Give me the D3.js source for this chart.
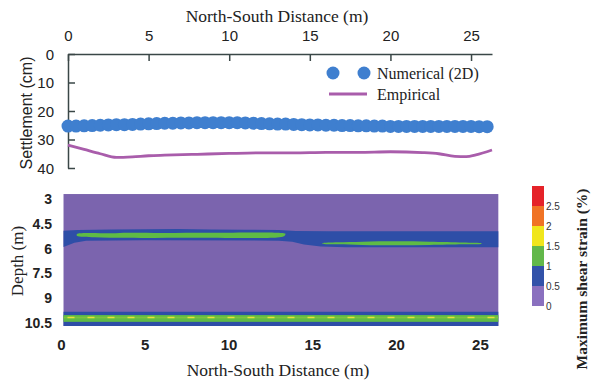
<!DOCTYPE html>
<html><head><meta charset="utf-8">
<script src="https://cdn.jsdelivr.net/npm/d3@7"></script>
<style>body{margin:0;background:#fff}svg{display:block}
.serif{font-family:"Times New Roman",Times,"Liberation Serif",Tinos,"Noto Serif","DejaVu Serif",FreeSerif,serif}
.sans{font-family:"Liberation Sans",Arial,"DejaVu Sans",sans-serif}
</style>
</head><body><svg id="c" width="593" height="381"></svg>
<script>
// ---------- DATA ----------
const distTicks = [0, 5, 10, 15, 20, 25];
const settleTicks = [0, 10, 20, 30, 40];
const depthTicks = [3, 4.5, 6, 7.5, 9, 10.5];
const depthTickLabels = ["3", "4.5", "6", "7.5", "9", "10.5"];
const strainBins = [0, 0.5, 1, 1.5, 2, 2.5, 3];
const strainTickLabels = ["0", "0.5", "1", "1.5", "2", "2.5"];
const strainColors = ["#8a70bf", "#3252a9", "#62b84a", "#f0e61c", "#f07325", "#e52329"];

const numericalX = [0,0.5,1,1.5,2,2.5,3,3.5,4,4.5,5,5.5,6,6.5,7,7.5,8,8.5,9,9.5,10,10.5,11,11.5,12,12.5,13,13.5,14,14.5,15,15.5,16,16.5,17,17.5,18,18.5,19,19.5,20,20.5,21,21.5,22,22.5,23,23.5,24,24.5,25,25.5,26];
const numericalSettlement = [25.3,25.3,25.2,25.1,25.0,24.9,24.8,24.8,24.7,24.6,24.5,24.4,24.3,24.3,24.2,24.2,24.1,24.1,24.1,24.1,24.1,24.1,24.2,24.3,24.4,24.5,24.6,24.6,24.7,24.8,24.9,24.9,25.0,25.0,25.1,25.1,25.2,25.2,25.3,25.3,25.4,25.4,25.4,25.4,25.4,25.4,25.4,25.4,25.4,25.4,25.4,25.5,25.5];
const empiricalX = [0,1,2,3,4,5,6,8,10,12,14,16,18,20,22,23,24,24.7,25.3,26.3];
const empiricalSettlement = [32.0,33.5,35.0,36.3,36.1,35.7,35.5,35.2,34.9,34.7,34.7,34.5,34.5,34.3,34.6,35.0,35.9,36.0,35.4,33.7];

// contour field (x in m, depth in m)
const fieldX = [0.15, 26.1];
const fieldDepth = [2.7, 10.68];
const upperBand = [[0.15,4.92],[1,4.88],[3,4.85],[5,4.83],[7,4.82],[9,4.84],[11,4.86],[13,4.88],[14,4.94],[16,4.95],[20,4.95],[26.1,4.95],
  [26.1,5.92],[20,5.92],[17,5.92],[15.5,5.88],[14.5,5.75],[13.8,5.58],[13,5.52],[5,5.5],[1.5,5.52],[0.8,5.65],[0.15,5.9]];
const upperLensLeft = [[0.95,5.12],[1.5,5.06],[3,5.07],[4,5.04],[6,5.05],[9,5.04],[13.1,5.05],[13.4,5.1],
  [13.3,5.26],[12.9,5.33],[8,5.34],[4,5.35],[2,5.31],[0.95,5.22]];
const upperLensRight = [[15.6,5.68],[16.5,5.62],[18,5.58],[20,5.56],[22,5.58],[24,5.63],[25.1,5.68],
  [25.1,5.7],[24,5.74],[22,5.78],[20,5.8],[18,5.78],[16.5,5.74],[15.6,5.7]];
const lowerBand = [9.82, 10.68];
const lowerLens = [10.02, 10.43];
const lowerCore = [10.12, 10.22];
const lowerPeakDepth = 10.16;

// ---------- SCALES ----------
const svg = d3.select("#c");
const axisCol = "#3a4747";

const xTop = d3.scaleLinear([0, 26.3], [68, 492]);
const yTop = d3.scaleLinear([0, 40], [54, 168]);
const xBot = d3.scaleLinear([0, 26.2], [61, 500]);
const yBot = d3.scaleLinear([3, 10.5], [199, 323]);
const yBar = d3.scaleLinear([0, 3], [306, 186]);

// ---------- TOP CHART ----------
const gx = svg.append("g").attr("transform", `translate(0,${yTop(0)})`)
  .call(d3.axisTop(xTop).tickValues(distTicks).tickSizeInner(-7).tickSizeOuter(0).tickPadding(13));
const gy = svg.append("g").attr("transform", `translate(${xTop(0)},0)`)
  .call(d3.axisLeft(yTop).tickValues(settleTicks).tickSizeInner(-7).tickSizeOuter(0).tickPadding(14));
[gx, gy].forEach(g => {
  g.attr("font-family", null).attr("class", "sans");
  g.selectAll("path,line").attr("stroke", axisCol).attr("stroke-width", 1.5);
  g.selectAll("text").attr("font-size", 15).attr("fill", "#222");
});
gy.selectAll("text").attr("dy", "0.36em");

svg.append("text").attr("class", "serif").attr("x", 277).attr("y", 22).attr("text-anchor", "middle")
  .attr("font-size", 17.5).attr("fill", "#222").text("North-South Distance (m)");
svg.append("text").attr("class", "sans").attr("transform", "translate(32,113) rotate(-90)").attr("text-anchor", "middle")
  .attr("font-size", 16).attr("fill", "#222").text("Settlement (cm)");

const empLine = d3.line().x((d, i) => xTop(empiricalX[i])).y(d => yTop(d)).curve(d3.curveMonotoneX);
svg.append("path").datum(empiricalSettlement).attr("d", empLine)
  .attr("fill", "none").attr("stroke", "#a95dab").attr("stroke-width", 2.8);

svg.append("g").selectAll("circle").data(numericalSettlement).join("circle")
  .attr("cx", (d, i) => xTop(numericalX[i])).attr("cy", d => yTop(d)).attr("r", 6.5)
  .attr("fill", "#3f7fcf");

// legend
const leg = svg.append("g");
leg.append("circle").attr("cx", 333).attr("cy", 73).attr("r", 6.5).attr("fill", "#3f7fcf");
leg.append("circle").attr("cx", 364).attr("cy", 73).attr("r", 6.5).attr("fill", "#3f7fcf");
leg.append("text").attr("class", "serif").attr("x", 377).attr("y", 78.5).attr("font-size", 16)
  .attr("fill", "#222").text("Numerical (2D)");
leg.append("line").attr("x1", 329).attr("x2", 367).attr("y1", 94).attr("y2", 94)
  .attr("stroke", "#a95dab").attr("stroke-width", 2.8);
leg.append("text").attr("class", "serif").attr("x", 377).attr("y", 99.5).attr("font-size", 16)
  .attr("fill", "#222").text("Empirical");

// ---------- BOTTOM CONTOUR ----------
const poly = d3.line().x(d => xBot(d[0])).y(d => yBot(d[1])).curve(d3.curveLinearClosed);
const smooth = d3.line().x(d => xBot(d[0])).y(d => yBot(d[1])).curve(d3.curveCatmullRomClosed);
const fx0 = xBot(fieldX[0]), fx1 = xBot(fieldX[1]);
svg.append("rect").attr("x", fx0).attr("y", yBot(fieldDepth[0]))
  .attr("width", fx1 - fx0).attr("height", yBot(fieldDepth[1]) - yBot(fieldDepth[0])).attr("fill", "#7b64ae");
svg.append("path").attr("d", poly(upperBand)).attr("fill", "#2e4ea7");
svg.append("path").attr("d", smooth(upperLensLeft)).attr("fill", "#5fbb45");
svg.append("path").attr("d", smooth(upperLensRight)).attr("fill", "#5fbb45");
svg.append("rect").attr("x", fx0).attr("y", yBot(lowerBand[0])).attr("width", fx1 - fx0)
  .attr("height", yBot(lowerBand[1]) - yBot(lowerBand[0])).attr("fill", "#2e4ea7");
svg.append("rect").attr("x", fx0).attr("y", yBot(lowerLens[0])).attr("width", fx1 - fx0)
  .attr("height", yBot(lowerLens[1]) - yBot(lowerLens[0])).attr("fill", "#5fbb45");
svg.append("rect").attr("x", fx0).attr("y", yBot(lowerCore[0])).attr("width", fx1 - fx0)
  .attr("height", yBot(lowerCore[1]) - yBot(lowerCore[0])).attr("fill", "#7cc43f");
svg.append("line").attr("x1", fx0 + 4).attr("x2", fx1).attr("y1", yBot(lowerPeakDepth)).attr("y2", yBot(lowerPeakDepth))
  .attr("stroke", "#e6e23a").attr("stroke-width", 1.5).attr("stroke-dasharray", "7 13");

const gbx = svg.append("g").attr("transform", `translate(0,${yBot(fieldDepth[1]) + 9})`)
  .call(d3.axisBottom(xBot).tickValues(distTicks).tickSize(0).tickPadding(4));
const gby = svg.append("g").attr("transform", `translate(${xBot(0)},0)`)
  .call(d3.axisLeft(yBot).tickValues(depthTicks).tickFormat((d, i) => depthTickLabels[i]).tickSize(0).tickPadding(9));
[gbx, gby].forEach(g => {
  g.attr("font-family", null).attr("class", "sans");
  g.select(".domain").remove();
  g.selectAll("text").attr("font-weight", "bold").attr("fill", "#222");
});
gbx.selectAll("text").attr("font-size", 15);
gby.selectAll("text").attr("font-size", 14);

svg.append("text").attr("class", "serif").attr("x", 278).attr("y", 376).attr("text-anchor", "middle")
  .attr("font-size", 17.5).attr("fill", "#222").text("North-South Distance (m)");
svg.append("text").attr("class", "serif").attr("transform", "translate(23,261) rotate(-90)").attr("text-anchor", "middle")
  .attr("font-size", 17).attr("fill", "#222").text("Depth (m)");

// ---------- COLORBAR ----------
const cb = svg.append("g").attr("class", "sans");
cb.selectAll("rect").data(strainColors).join("rect")
  .attr("x", 532).attr("width", 12)
  .attr("y", (d, i) => yBar(strainBins[i + 1])).attr("height", (d, i) => yBar(strainBins[i]) - yBar(strainBins[i + 1]))
  .attr("fill", d => d);
cb.selectAll("text").data(strainTickLabels).join("text")
  .attr("x", 546).attr("y", (d, i) => yBar(strainBins[i]) + 3.5)
  .attr("font-size", 10).attr("fill", "#333").text(d => d);
svg.append("text").attr("class", "serif").attr("transform", "translate(587,279) rotate(-90)").attr("text-anchor", "middle")
  .attr("font-weight", "bold").attr("font-size", 15.5).attr("fill", "#222")
  .text("Maximum shear strain (%)");
</script></body></html>
